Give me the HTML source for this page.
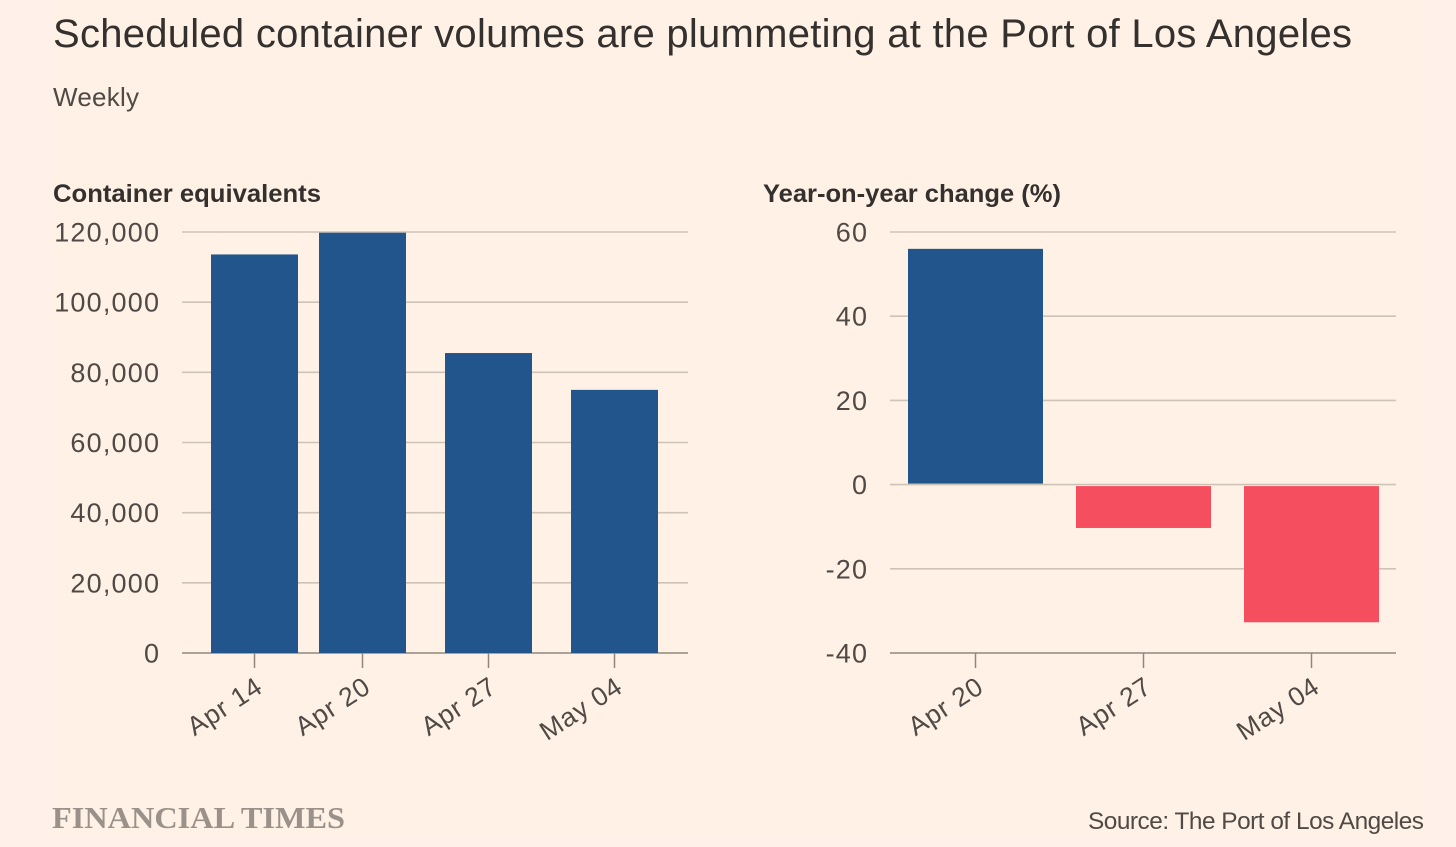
<!DOCTYPE html>
<html lang="en">
<head>
<meta charset="utf-8">
<title>Scheduled container volumes are plummeting at the Port of Los Angeles</title>
<style>
html,body{margin:0;padding:0;width:1456px;height:847px;overflow:hidden;background:#fff0ea}
svg{display:block;position:absolute;left:0;top:0}
text{font-family:"Liberation Sans",sans-serif}
</style>
</head>
<body>
<svg id="chart" width="1456" height="847" viewBox="0 0 1456 847" xmlns="http://www.w3.org/2000/svg">
  <rect x="52" y="0" width="1372" height="835" fill="#fff1e5"/>
  <text x="53" y="47" font-size="40" fill="#33302e" textLength="1299" lengthAdjust="spacing">Scheduled container volumes are plummeting at the Port of Los Angeles</text>
  <text x="53" y="106" font-size="26" fill="#4f4a45" textLength="86" lengthAdjust="spacing">Weekly</text>
  <text x="53" y="202" font-size="25" font-weight="700" fill="#33302e" textLength="268" lengthAdjust="spacingAndGlyphs">Container equivalents</text>
  <text x="763" y="202" font-size="25" font-weight="700" fill="#33302e" textLength="298" lengthAdjust="spacingAndGlyphs">Year-on-year change (%)</text>
  <g id="left-panel"></g>
  <g id="right-panel"></g>
  <text x="52" y="828" font-size="31" font-weight="700" fill="#99918a" textLength="293" lengthAdjust="spacingAndGlyphs" style="font-family:'Liberation Serif',serif">FINANCIAL TIMES</text>
  <text x="1424" y="829" font-size="24.4" fill="#4f4a45" text-anchor="end" textLength="336" lengthAdjust="spacing">Source: The Port of Los Angeles</text>
</svg>
<script>
var leftLabels = ['Apr 14', 'Apr 20', 'Apr 27', 'May 04'];
var leftDays = [0, 6, 13, 20];
var leftValues = [113600, 119800, 85500, 75000];
var leftTicks = [0, 20000, 40000, 60000, 80000, 100000, 120000];
var leftTickLabels = ['0', '20,000', '40,000', '60,000', '80,000', '100,000', '120,000'];

var rightLabels = ['Apr 20', 'Apr 27', 'May 04'];
var rightValues = [56, -10.3, -32.7];
var rightTicks = [-40, -20, 0, 20, 40, 60];
var rightTickLabels = ['-40', '-20', '0', '20', '40', '60'];

var NS = 'http://www.w3.org/2000/svg';
var PLOT_TOP = 232, PLOT_BOTTOM = 653;
var GRID = '#cdc4b6', AXIS = '#8f877f', TEXT = '#4f4a45';
var BLUE = '#22558b', RED = '#f54e5e';

function make(parent, tag, attrs, content) {
  var el = document.createElementNS(NS, tag);
  Object.keys(attrs).forEach(function (k) { el.setAttribute(k, attrs[k]); });
  if (content !== undefined) el.textContent = content;
  parent.appendChild(el);
  return el;
}
function linearScale(d0, d1, r0, r1) {
  return function (v) { return r0 + (v - d0) / (d1 - d0) * (r1 - r0); };
}
function xTickLabel(parent, x, label) {
  var el = make(parent, 'text', {
    x: x + 10, y: 691, 'font-size': 26.5, 'letter-spacing': 0.9, fill: TEXT, 'text-anchor': 'end',
    transform: 'rotate(-33 ' + (x + 10) + ' 691)'
  }, label);
  
  
}
function xTickMark(parent, x) {
  var el = make(parent, 'line', { x1: x, x2: x, y1: PLOT_BOTTOM, y2: 668, stroke: AXIS, 'stroke-width': 1.5 });
  
  
}
function yAxis(parent, ticks, labels, yScale, x0, x1, labelX) {
  ticks.forEach(function (t, i) {
    var y = yScale(t);
    var isBase = y >= PLOT_BOTTOM - 0.5;
    var line = make(parent, 'line', { x1: x0, x2: x1, y1: y, y2: y, stroke: isBase ? AXIS : GRID, 'stroke-width': 1.6 });
    
    
    var label = make(parent, 'text', { x: labelX + 1.2, y: y + 9.5, 'font-size': 27, 'letter-spacing': 1.2, fill: TEXT, 'text-anchor': 'end' }, labels[i]);
    
    
  });
}

/* Left panel: bars placed on a time axis, in days from the first week */
(function () {
  var g = document.getElementById('left-panel');
  var y = linearScale(0, 120000, PLOT_BOTTOM, PLOT_TOP);
  var x = linearScale(0, 20, 254.5, 614.5);
  var bw = 87;
  yAxis(g, leftTicks, leftTickLabels, y, 182, 688, 159);
  leftValues.forEach(function (v, i) {
    var cx = x(leftDays[i]);
    var bar = make(g, 'rect', { x: cx - bw / 2, y: y(v), width: bw, height: y(0) - y(v), fill: BLUE });
    
    
    xTickMark(g, cx);
    xTickLabel(g, cx, leftLabels[i]);
  });
})();

/* Right panel: evenly spaced bars, positive blue and negative red */
(function () {
  var g = document.getElementById('right-panel');
  var y = linearScale(-40, 60, PLOT_BOTTOM, PLOT_TOP);
  var x = linearScale(0, rightLabels.length - 1, 975.5, 1311.5);
  var bw = 135;
  yAxis(g, rightTicks, rightTickLabels, y, 890, 1396, 867);
  rightValues.forEach(function (v, i) {
    var cx = x(i);
    var top = v >= 0 ? y(v) : y(0) + 1.5;
    var bottom = v >= 0 ? y(0) - 1 : y(v);
    var bar = make(g, 'rect', { x: cx - bw / 2, y: top, width: bw, height: bottom - top, fill: v >= 0 ? BLUE : RED });
    
    
    xTickMark(g, cx);
    xTickLabel(g, cx, rightLabels[i]);
  });
})();
</script>
</body>
</html>
